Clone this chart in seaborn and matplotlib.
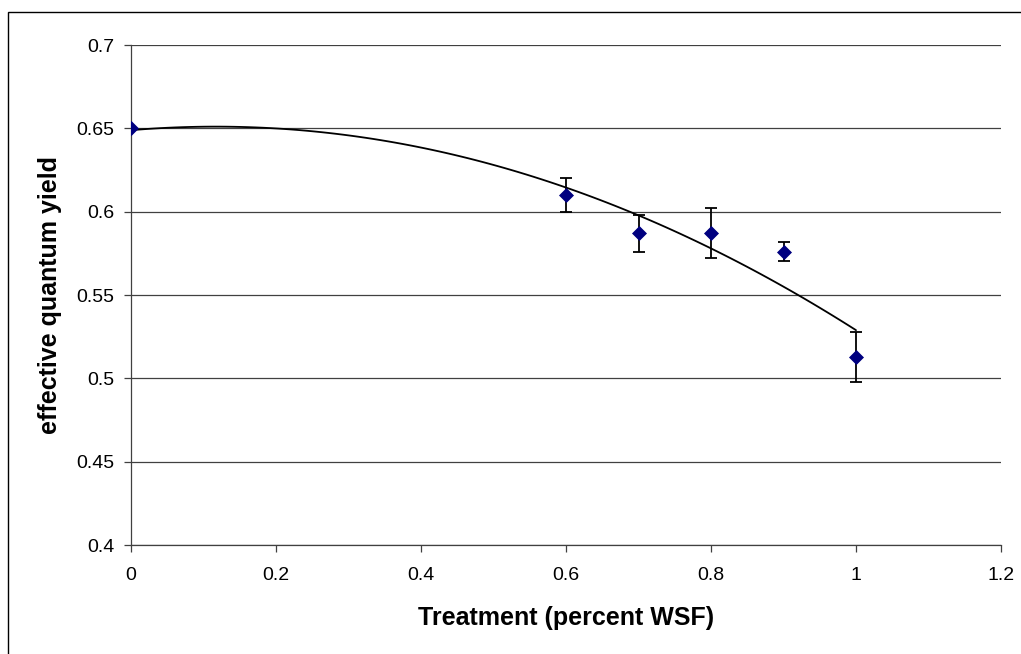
import numpy as np
import pandas as pd
import matplotlib.pyplot as plt
import seaborn as sns

treatment = [0.0, 0.6, 0.7, 0.8, 0.9, 1.0]
yield_mean = [0.650, 0.610, 0.587, 0.587, 0.576, 0.513]
yield_err = [0.000, 0.010, 0.011, 0.015, 0.0058, 0.015]

df = pd.DataFrame({"treatment": treatment, "yield": yield_mean, "err": yield_err})

sns.set_style("white")
plt.rcParams['font.family'] = ['Liberation Sans', 'DejaVu Sans']

fig = plt.figure(figsize=(10.21, 6.54), dpi=100)
ax = fig.add_axes([131 / 1021, 1 - 545 / 654, 870 / 1021, 500 / 654])

# outer chart border (only left/top visible in the original crop)
fig.patches.append(plt.Rectangle((8 / 1021, -0.1), 1.2, 1 - 12 / 654 + 0.1,
                                 transform=fig.transFigure, fill=False,
                                 edgecolor='black', linewidth=1.0))

# 2nd order polynomial trendline
sns.regplot(data=df, x="treatment", y="yield", order=2, ci=None, scatter=False,
            ax=ax, line_kws=dict(color='black', lw=1.3), truncate=True)

ax.errorbar(df["treatment"], df["yield"], yerr=df["err"], fmt='none',
            ecolor='black', elinewidth=1.3, capsize=4.5, capthick=1.3, zorder=3)
sns.scatterplot(data=df, x="treatment", y="yield", marker='D', s=50,
                color='#000080', edgecolor='#000080', ax=ax, zorder=4)

ax.set_xlim(0, 1.2)
ax.set_ylim(0.4, 0.7)
ax.set_xticks([0, 0.2, 0.4, 0.6, 0.8, 1.0, 1.2])
ax.set_xticklabels(['0', '0.2', '0.4', '0.6', '0.8', '1', '1.2'])
ax.set_yticks([0.4, 0.45, 0.5, 0.55, 0.6, 0.65, 0.7])
ax.set_yticklabels(['0.4', '0.45', '0.5', '0.55', '0.6', '0.65', '0.7'])
ax.yaxis.grid(True, color='#404040', lw=0.9)
ax.set_axisbelow(True)
for s in ['top', 'right']:
    ax.spines[s].set_visible(False)
for s in ['left', 'bottom']:
    ax.spines[s].set_color('#404040')
    ax.spines[s].set_linewidth(0.9)
ax.tick_params(axis='both', direction='out', length=5, width=0.9, color='#404040',
               labelsize=14, labelcolor='black', bottom=True, left=True)
ax.tick_params(axis='x', pad=11)
ax.tick_params(axis='y', pad=7)

ax.set_xlabel('Treatment (percent WSF)', fontsize=18, fontweight='bold',
              labelpad=16, color='black')
ax.set_ylabel('effective quantum yield', fontsize=18, fontweight='bold',
              labelpad=10, color='black')

fig.savefig('out.png', dpi=100)
